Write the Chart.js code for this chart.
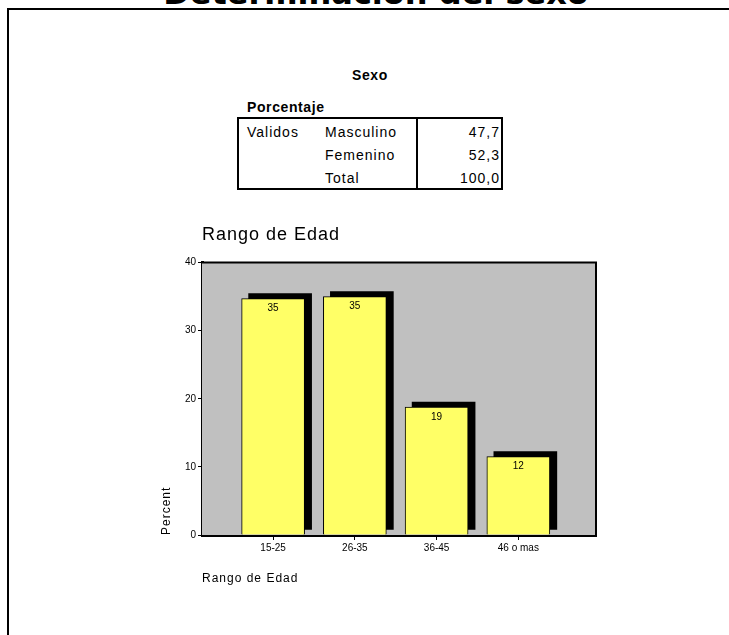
<!DOCTYPE html>
<html>
<head>
<meta charset="utf-8">
<script src="https://cdn.jsdelivr.net/npm/chart.js@4/dist/chart.umd.min.js"></script>
<style>
  body { margin: 0; background: #fff; width: 729px; height: 635px; overflow: hidden; position: relative; font-family: "Liberation Sans", Arial, sans-serif; }
  .abs { position: absolute; line-height: 1; white-space: nowrap; color: #000; }
  #frame { position: absolute; left: 7px; top: 8px; width: 721px; height: 640px; border-top: 2px solid #000; border-left: 2px solid #000; }
  #bigtitle { left: 0; width: 752px; text-align: center; top: -26px; font: bold 32px "DejaVu Sans", sans-serif; }
  #box { position: absolute; left: 237px; top: 117px; width: 262px; height: 69px; border: 2px solid #000; }
  #sep { position: absolute; left: 416px; top: 117px; width: 2px; height: 73px; background: #000; }
  .t { font-size: 14px; letter-spacing: 1px; }
  .b { font-weight: bold; font-size: 14px; letter-spacing: 0.6px; }
  #chartBox { position: absolute; left: 155px; top: 215px; }
</style>
</head>
<body>
<div id="frame"></div>
<div class="abs" id="bigtitle">Determinación del sexo</div>

<div class="abs b" style="left:352px; top:68px;">Sexo</div>
<div class="abs b" style="left:247px; top:100px;">Porcentaje</div>
<div id="box"></div>
<div id="sep"></div>
<div id="rows"></div>

<div id="chartBox"><canvas id="chart" width="460" height="385"></canvas></div>

<script>
// tabla de sexo
const sexoGrupo = 'Validos';
const sexoCategorias = ['Masculino', 'Femenino', 'Total'];
const sexoPorcentaje = ['47,7', '52,3', '100,0'];

// grafico rango de edad
const categories = ['15-25', '26-35', '36-45', '46 o mas'];
const percents = [34.7, 35.0, 18.8, 11.5];
const yTicks = [0, 10, 20, 30, 40];

const rowTops = [125, 148, 171];
let html = `<div class="abs t" style="left:247px; top:${rowTops[0]}px;">${sexoGrupo}</div>`;
for (var i = 0; i < sexoCategorias.length; i++) {
  html += `<div class="abs t" style="left:325px; top:${rowTops[i]}px;">${sexoCategorias[i]}</div>`;
  html += `<div class="abs t" style="right:${729 - 500}px; top:${rowTops[i]}px;">${sexoPorcentaje[i]}</div>`;
}
document.getElementById('rows').innerHTML = html;

const font = 'Liberation Sans, Arial, sans-serif';

const plotBack = {
  id: 'plotBack',
  beforeDraw(chart) {
    // titulos un poco espaciados como en el original
    chart.ctx.letterSpacing = '1px';
  },
  beforeDatasetsDraw(chart) {
    const {ctx, chartArea: a} = chart;
    ctx.letterSpacing = '0px';
    ctx.save();
    ctx.fillStyle = '#c0c0c0';
    ctx.fillRect(a.left, a.top, a.right - a.left, a.bottom - a.top);
    ctx.strokeStyle = '#000';
    ctx.lineWidth = 2;
    ctx.beginPath();
    ctx.moveTo(a.left, a.top);
    ctx.lineTo(a.right, a.top);
    ctx.lineTo(a.right, a.bottom);
    ctx.stroke();
    ctx.restore();
  },
  beforeDatasetDraw(chart, args) {
    if (args.index === 1) {
      chart.ctx.save();
      chart.ctx.translate(7, -5);
    }
  },
  afterDatasetDraw(chart, args) {
    if (args.index === 1) chart.ctx.restore();
  },
  afterDatasetsDraw(chart) {
    const ctx = chart.ctx;
    const meta = chart.getDatasetMeta(0);
    ctx.save();
    ctx.font = '10px ' + font;
    ctx.fillStyle = '#000';
    ctx.textAlign = 'center';
    ctx.textBaseline = 'middle';
    meta.data.forEach(function(bar, i) {
      ctx.fillText(String(Math.round(percents[i])), bar.x, bar.y + 10);
    });
    ctx.restore();
  }
};

const points = percents.map(function(v, i) { return {x: i + 1, y: v}; });

new Chart(document.getElementById('chart'), {
  type: 'bar',
  data: {
    datasets: [{
      label: 'Percent',
      data: points,
      backgroundColor: '#ffff66',
      borderColor: '#000',
      borderWidth: 1,
      barThickness: 63,
      grouped: false
    }, {
      label: 'sombra',
      data: points,
      backgroundColor: '#000',
      borderWidth: 0,
      barThickness: 63,
      grouped: false
    }]
  },
  options: {
    responsive: false,
    animation: false,
    devicePixelRatio: 1,
    layout: { padding: { left: 0, right: 19, top: 0, bottom: 0 } },
    plugins: {
      legend: { display: false },
      tooltip: { enabled: false },
      title: {
        display: true,
        text: 'Rango de Edad',
        align: 'start',
        fullSize: false,
        color: '#000',
        font: { family: font, size: 18, weight: 'normal' },
        padding: { top: 9, bottom: 17 }
      }
    },
    scales: {
      x: {
        type: 'linear',
        offset: false,
        min: 0.13,
        max: 4.95,
        afterBuildTicks: function(scale) {
          scale.ticks = categories.map(function(c, i) { return {value: i + 1}; });
        },
        afterFit: function(scale) { scale.height = 65; },
        ticks: {
          z: 1,
          color: '#000',
          font: { family: font, size: 10 },
          padding: 2,
          maxRotation: 0,
          callback: function(v) { return categories[v - 1]; }
        },
        grid: { offset: false, drawOnChartArea: false, color: '#000', tickLength: 5 },
        border: { color: '#000', width: 3 },
        title: {
          display: true,
          text: 'Rango de Edad',
          align: 'start',
          color: '#000',
          font: { family: font, size: 12 },
          padding: { top: 4, bottom: 14 }
        }
      },
      y: {
        min: yTicks[0],
        max: yTicks[yTicks.length - 1],
        afterBuildTicks: function(scale) {
          scale.ticks = yTicks.map(function(v) { return {value: v}; });
        },
        afterFit: function(scale) { scale.width = 47; },
        ticks: {
          z: 1,
          color: '#000',
          font: { family: font, size: 10 },
          padding: 2
        },
        grid: { drawOnChartArea: false, color: '#000', tickLength: 4 },
        border: { color: '#000', width: 3 },
        title: {
          display: true,
          text: 'Percent',
          align: 'start',
          color: '#000',
          font: { family: font, size: 12 },
          padding: { top: 4, bottom: 4 }
        }
      }
    }
  },
  plugins: [plotBack]
});
</script>
</body>
</html>
